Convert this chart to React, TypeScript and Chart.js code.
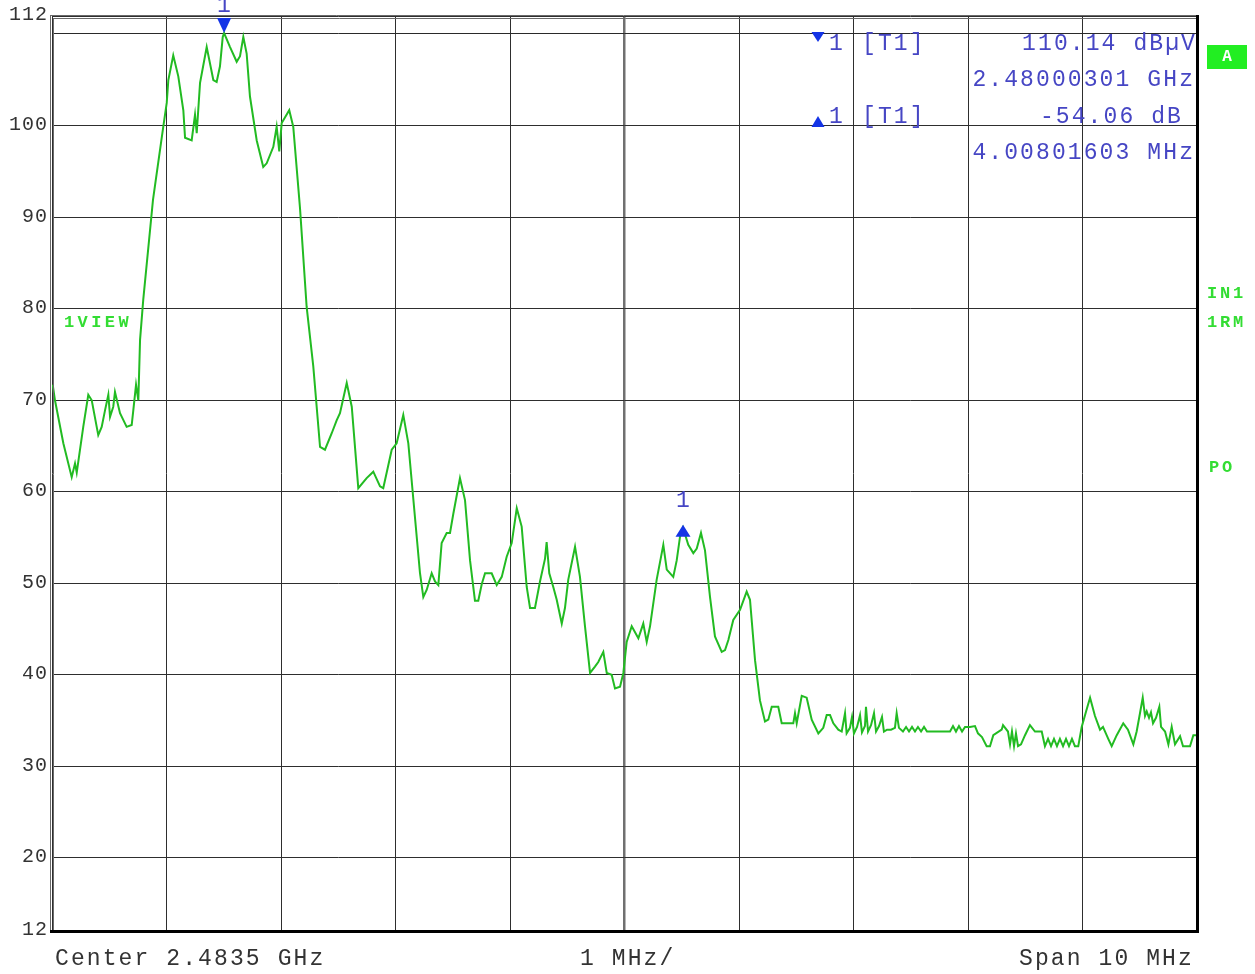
import React, { useEffect, useRef } from "react";
import { Chart, registerables } from "chart.js";

Chart.register(...registerables);

// ---- data ----
const CENTER_LABEL = "Center 2.4835 GHz";
const DIV_LABEL = "1 MHz/";
const SPAN_LABEL = "Span 10 MHz";

const xTicks = [0, 1, 2, 3, 4, 5, 6, 7, 8, 9, 10];
const yTicks = [12, 20, 30, 40, 50, 60, 70, 80, 90, 100, 112];

// frequency offset from start (2.4785 GHz), MHz
const freqMHz = [
  0.006, 0.026, 0.099, 0.172, 0.201, 0.216, 0.273, 0.317, 0.347, 0.404, 0.434, 0.463, 0.492, 0.507, 0.535, 0.55,
  0.594, 0.652, 0.696, 0.71, 0.734, 0.754, 0.769, 0.797, 0.882, 0.972, 1.002, 1.016, 1.059, 1.103, 1.147, 1.162,
  1.22, 1.249, 1.264, 1.293, 1.351, 1.409, 1.438, 1.467, 1.491, 1.503, 1.555, 1.613, 1.642, 1.671, 1.7, 1.729,
  1.788, 1.845, 1.875, 1.933, 1.962, 1.985, 2.006, 2.072, 2.107, 2.166, 2.224, 2.282, 2.341, 2.384, 2.443, 2.486,
  2.515, 2.574, 2.618, 2.675, 2.748, 2.806, 2.865, 2.893, 2.967, 3.01, 3.068, 3.112, 3.214, 3.243, 3.273, 3.316,
  3.345, 3.374, 3.403, 3.447, 3.476, 3.505, 3.563, 3.607, 3.651, 3.694, 3.723, 3.753, 3.782, 3.84, 3.884, 3.928,
  3.971, 4.015, 4.059, 4.102, 4.146, 4.175, 4.218, 4.262, 4.306, 4.32, 4.343, 4.378, 4.408, 4.452, 4.48, 4.509,
  4.568, 4.611, 4.655, 4.699, 4.742, 4.771, 4.815, 4.845, 4.888, 4.917, 4.961, 4.99, 5.019, 5.063, 5.121, 5.164,
  5.194, 5.223, 5.281, 5.339, 5.369, 5.426, 5.456, 5.485, 5.511, 5.557, 5.601, 5.631, 5.668, 5.703, 5.747, 5.79,
  5.849, 5.878, 5.907, 5.95, 6.009, 6.067, 6.096, 6.14, 6.183, 6.227, 6.256, 6.286, 6.343, 6.373, 6.474, 6.489,
  6.504, 6.548, 6.591, 6.635, 6.693, 6.736, 6.766, 6.795, 6.824, 6.867, 6.897, 6.926, 6.94, 6.969, 6.987, 7.004,
  7.031, 7.057, 7.074, 7.1, 7.109, 7.127, 7.153, 7.179, 7.197, 7.223, 7.249, 7.266, 7.293, 7.328, 7.362, 7.377,
  7.397, 7.432, 7.459, 7.485, 7.511, 7.537, 7.563, 7.59, 7.616, 7.642, 7.843, 7.869, 7.895, 7.921, 7.948, 7.974,
  8.017, 8.061, 8.087, 8.122, 8.163, 8.192, 8.221, 8.294, 8.306, 8.349, 8.367, 8.384, 8.402, 8.419, 8.437, 8.463,
  8.498, 8.541, 8.585, 8.644, 8.672, 8.699, 8.725, 8.751, 8.777, 8.803, 8.83, 8.856, 8.882, 8.908, 8.934, 8.963,
  8.993, 9.031, 9.066, 9.109, 9.153, 9.179, 9.225, 9.255, 9.299, 9.356, 9.397, 9.444, 9.473, 9.502, 9.526, 9.546,
  9.561, 9.581, 9.598, 9.616, 9.642, 9.671, 9.686, 9.721, 9.75, 9.779, 9.808, 9.852, 9.878, 9.939, 9.968, 9.991,
];

// level, dBµV
const levelDb = [
  71.7, 70.0, 65.3, 61.6, 63.1, 62.1, 67.1, 70.6, 70.0, 66.2, 67.1, 68.9, 70.6, 68.2, 69.3, 70.9,
  68.6, 67.1, 67.3, 68.9, 71.7, 70.0, 76.6, 81.0, 91.9, 99.9, 102.5, 105.0, 107.7, 105.4, 101.7, 98.7,
  98.4, 101.2, 99.2, 104.7, 108.6, 105.0, 104.8, 106.5, 109.7, 110.14, 108.6, 107.0, 107.6, 109.7, 107.9, 103.2,
  98.4, 95.5, 95.9, 97.7, 99.9, 97.2, 100.3, 101.7, 99.9, 91.0, 80.2, 73.7, 64.9, 64.6, 66.4, 67.8,
  68.6, 71.9, 69.3, 60.4, 61.5, 62.2, 60.6, 60.4, 64.6, 65.3, 68.4, 65.3, 51.1, 48.5, 49.3, 51.1,
  50.2, 49.8, 54.4, 55.5, 55.5, 57.6, 61.5, 59.1, 52.5, 48.1, 48.1, 49.9, 51.1, 51.1, 49.8, 50.7,
  52.9, 54.4, 58.2, 56.2, 49.6, 47.3, 47.3, 50.2, 52.7, 54.5, 51.1, 49.6, 48.2, 45.6, 47.3, 50.4,
  54.0, 50.7, 45.3, 40.2, 40.9, 41.4, 42.5, 40.2, 40.0, 38.5, 38.7, 40.2, 43.6, 45.3, 44.0, 45.6,
  43.6, 45.3, 50.4, 54.2, 51.5, 50.7, 52.5, 55.1, 56.08, 54.2, 53.3, 53.8, 55.5, 53.6, 48.5, 44.2,
  42.5, 42.7, 43.8, 46.0, 47.1, 49.1, 48.2, 41.6, 37.2, 34.9, 35.1, 36.5, 36.5, 34.7, 34.7, 35.8,
  34.7, 37.7, 37.5, 35.1, 33.6, 34.2, 35.6, 35.6, 34.7, 34.0, 33.8, 35.8, 33.6, 34.2, 35.4, 33.6,
  34.3, 35.6, 33.7, 34.4, 36.5, 33.8, 34.5, 35.8, 33.8, 34.4, 35.4, 33.8, 34.0, 34.0, 34.2, 35.8,
  34.2, 33.8, 34.3, 33.8, 34.3, 33.8, 34.3, 33.8, 34.3, 33.8, 33.8, 34.4, 33.8, 34.4, 33.8, 34.3,
  34.3, 34.4, 33.6, 33.2, 32.2, 32.2, 33.4, 34.0, 34.5, 33.8, 32.4, 33.8, 32.2, 33.6, 32.2, 32.4,
  33.4, 34.5, 33.8, 33.8, 32.2, 33.0, 32.2, 33.0, 32.2, 33.0, 32.2, 33.0, 32.2, 33.0, 32.2, 32.2,
  34.3, 36.0, 37.5, 35.5, 34.0, 34.3, 33.0, 32.2, 33.4, 34.7, 34.0, 32.4, 33.8, 35.8, 37.5, 35.5,
  36.0, 35.3, 35.9, 34.7, 35.3, 36.5, 34.3, 33.8, 32.4, 34.3, 32.4, 33.3, 32.2, 32.2, 33.4, 33.4,
];

const markerFreqMHz = [1.503, 5.511];
const markerLevelDb = [110.14, 56.08];
const markerRows = [
  { sym: "down", num: "1", tag: "[T1]", value: "110.14 dBµV", sub: "2.48000301 GHz" },
  { sym: "up", num: "1", tag: "[T1]", value: "-54.06 dB", sub: "4.00801603 MHz" },
];
const sideLabels = ["IN1", "1RM", "PO"];
const traceLabel = "1VIEW";
const boxLabel = "A";

const BLUE_TEXT = "#4646c4";
const BLUE_MARK = "#1434e6";
const GREEN = "#33dd33";
const MONO = "'Liberation Mono', 'DejaVu Sans Mono', monospace";

function drawSpaced(ctx: CanvasRenderingContext2D, text: string, x: number, y: number, font: string, spacing: number, color: string) {
  ctx.save();
  ctx.font = font;
  (ctx as any).letterSpacing = spacing + "px";
  ctx.fillStyle = color;
  ctx.textAlign = "left";
  ctx.textBaseline = "middle";
  ctx.fillText(text, x, y);
  ctx.restore();
}

function tri(ctx: CanvasRenderingContext2D, x: number, yTop: number, yBot: number, half: number, down: boolean) {
  ctx.beginPath();
  if (down) {
    ctx.moveTo(x - half, yTop);
    ctx.lineTo(x + half, yTop);
    ctx.lineTo(x, yBot);
  } else {
    ctx.moveTo(x - half, yBot);
    ctx.lineTo(x + half, yBot);
    ctx.lineTo(x, yTop);
  }
  ctx.closePath();
  ctx.fill();
}

const decorPlugin = {
  id: "decor",
  beforeDatasetsDraw(chart: any) {
    const { ctx, chartArea, scales } = chart;
    const y = Math.round(scales.y.getPixelForValue(markerLevelDb[0])) + 0.5;
    ctx.save();
    ctx.strokeStyle = "#2a2a2a";
    ctx.lineWidth = 1;
    ctx.beginPath();
    ctx.moveTo(chartArea.left, y);
    ctx.lineTo(chartArea.right, y);
    ctx.stroke();
    ctx.restore();
  },
  afterDatasetsDraw(chart: any) {
    const { ctx, chartArea: a, scales } = chart;
    ctx.save();
    // frame
    ctx.strokeStyle = "#6a6a6a";
    ctx.lineWidth = 1;
    ctx.beginPath();
    ctx.moveTo(a.left - 2, a.top - 0.5);
    ctx.lineTo(a.right, a.top - 0.5);
    ctx.moveTo(a.left + 2, a.top + 2.5);
    ctx.lineTo(a.right, a.top + 2.5);
    ctx.moveTo(a.left - 1.5, a.top - 1);
    ctx.lineTo(a.left - 1.5, a.bottom);
    ctx.moveTo(a.left + 1.5, a.top + 2);
    ctx.lineTo(a.left + 1.5, a.bottom);
    ctx.stroke();
    ctx.strokeStyle = "#000";
    ctx.lineWidth = 3;
    ctx.beginPath();
    ctx.moveTo(a.left - 2, a.bottom + 0.5);
    ctx.lineTo(a.right + 2, a.bottom + 0.5);
    ctx.moveTo(a.right + 0.5, a.top - 1);
    ctx.lineTo(a.right + 0.5, a.bottom + 2);
    ctx.stroke();

    // y labels
    const yFont = "20px " + MONO;
    yTicks.forEach((v) => {
      const s = String(v);
      const py = scales.y.getPixelForValue(v) - 1;
      drawSpaced(ctx, s, 48 - s.length * 13, py, yFont, 1.0, "#333");
    });

    // bottom labels
    const bFont = "23px " + MONO;
    const sp = 2.1;
    drawSpaced(ctx, CENTER_LABEL, 55, 959, bFont, sp, "#333");
    drawSpaced(ctx, DIV_LABEL, 580, 959, bFont, sp, "#333");
    drawSpaced(ctx, SPAN_LABEL, 1019, 959, bFont, sp, "#333");

    // markers on trace
    ctx.fillStyle = BLUE_MARK;
    const m1x = scales.x.getPixelForValue(markerFreqMHz[0]);
    const m1y = scales.y.getPixelForValue(markerLevelDb[0]);
    tri(ctx, m1x, m1y - 15, m1y, 7, true);
    drawSpaced(ctx, "1", m1x - 7, m1y - 27, bFont, 0, BLUE_TEXT);
    const m2x = scales.x.getPixelForValue(markerFreqMHz[1]);
    const m2y = scales.y.getPixelForValue(markerLevelDb[1]);
    tri(ctx, m2x, m2y - 3, m2y + 9, 7.5, false);
    drawSpaced(ctx, "1", m2x - 7, m2y - 27, bFont, 0, BLUE_TEXT);

    // marker info table
    const rowY = [44, 117];
    markerRows.forEach((r, i) => {
      const yy = rowY[i];
      ctx.fillStyle = BLUE_MARK;
      if (r.sym === "down") tri(ctx, 818, yy - 12, yy - 2, 6.5, true);
      else tri(ctx, 818, yy - 1, yy + 10, 6.5, false);
      drawSpaced(ctx, r.num, 829, yy, bFont, sp, BLUE_TEXT);
      drawSpaced(ctx, r.tag, 862, yy, bFont, sp, BLUE_TEXT);
      const vx = 1197 - r.value.length * 15.9 - (r.sym === "up" ? 14 : 0);
      drawSpaced(ctx, r.value, vx, yy, bFont, sp, BLUE_TEXT);
      drawSpaced(ctx, r.sub, 1197 - r.sub.length * 15.9 - 2, yy + 36, bFont, sp, BLUE_TEXT);
    });

    // side labels
    const gFont = "bold 17px " + MONO;
    drawSpaced(ctx, traceLabel, 64, 323, gFont, 3.4, GREEN);
    drawSpaced(ctx, sideLabels[0], 1207, 294, gFont, 2.8, GREEN);
    drawSpaced(ctx, sideLabels[1], 1207, 323, gFont, 2.8, GREEN);
    drawSpaced(ctx, sideLabels[2], 1209, 468, gFont, 2.8, GREEN);

    // A box
    ctx.fillStyle = "#22ee22";
    ctx.fillRect(1207, 45, 40, 24);
    ctx.font = "bold 16px " + MONO;
    ctx.fillStyle = "#ffffff";
    ctx.textAlign = "center";
    ctx.textBaseline = "middle";
    ctx.fillText(boxLabel, 1227, 57);
    ctx.restore();
  },
};

export default function App() {
  const ref = useRef<HTMLCanvasElement | null>(null);
  useEffect(() => {
    if (!ref.current) return;
    const chart = new Chart(ref.current, {
      type: "line",
      data: {
        datasets: [
          {
            data: freqMHz.map((x, i) => ({ x, y: levelDb[i] })),
            borderColor: "#22bb22",
            borderWidth: 2,
            pointRadius: 0,
            tension: 0,
            fill: false,
          },
        ],
      },
      options: {
        animation: false,
        responsive: false,
        maintainAspectRatio: false,
        layout: { padding: { left: 52, right: 58, top: 16, bottom: 43 } },
        plugins: { legend: { display: false }, tooltip: { enabled: false } },
        scales: {
          x: {
            type: "linear",
            min: 0,
            max: 10,
            afterBuildTicks: (s: any) => {
              s.ticks = xTicks.map((v) => ({ value: v }));
            },
            afterFit: (s: any) => {
              s.height = 0;
            },
            ticks: { display: false },
            border: { display: false },
            grid: {
              drawTicks: false,
              color: (c: any) => (c.tick && c.tick.value === 5 ? "#707070" : "#2e2e2e"),
              lineWidth: (c: any) => (c.tick && c.tick.value === 5 ? 2.5 : 1),
            },
          },
          y: {
            type: "linear",
            min: 12,
            max: 112,
            afterBuildTicks: (s: any) => {
              s.ticks = yTicks.map((v) => ({ value: v }));
            },
            afterFit: (s: any) => {
              s.width = 0;
            },
            ticks: { display: false },
            border: { display: false },
            grid: { drawTicks: false, color: "#2e2e2e", lineWidth: 1 },
          },
        },
      },
      plugins: [decorPlugin],
    });
    return () => chart.destroy();
  }, []);
  return (
    <div style={{ position: "fixed", left: 0, top: 0, width: 1255, height: 974, background: "#fff" }}>
      <canvas ref={ref} width={1255} height={974} style={{ display: "block" }} />
    </div>
  );
}
